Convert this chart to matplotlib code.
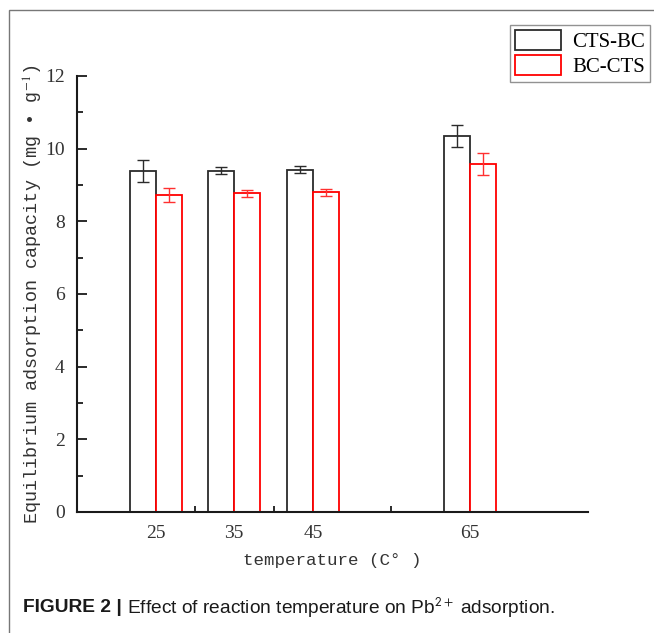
import numpy as np
import matplotlib
matplotlib.use("Agg")
import matplotlib.pyplot as plt
from matplotlib.patches import Rectangle

# Datos
temps = [25, 35, 45, 65]
cts_bc = [9.38, 9.39, 9.42, 10.34]
cts_bc_err = [0.30, 0.10, 0.10, 0.30]
bc_cts = [8.73, 8.77, 8.80, 9.58]
bc_cts_err = [0.20, 0.10, 0.10, 0.30]
labels = ["CTS-BC", "BC-CTS"]

w = 3.3
x = np.array(temps, dtype=float)

fig = plt.figure(figsize=(6.54, 6.33), dpi=100)
ax = fig.add_axes([77 / 654, 1 - 512 / 633, (588 - 77) / 654, (512 - 76) / 633])

serif = "Liberation Serif"
mono = "Liberation Mono"

b1 = ax.bar(x - w / 2, cts_bc, w, facecolor="white", edgecolor="#2b2b2b", lw=1.3,
            label=labels[0], zorder=2)
b2 = ax.bar(x + w / 2, bc_cts, w, facecolor="white", edgecolor="#ff0000", lw=1.3,
            label=labels[1], zorder=2)
ax.errorbar(x - w / 2, cts_bc, yerr=cts_bc_err, fmt="none", ecolor="#2b2b2b",
            elinewidth=1.0, capsize=4.5, capthick=1.0, zorder=3)
ax.errorbar(x + w / 2, bc_cts, yerr=bc_cts_err, fmt="none", ecolor="#ff3030",
            elinewidth=1.0, capsize=4.5, capthick=1.0, zorder=3)

ax.set_xlim(15, 80)
ax.set_ylim(0, 12)
ax.set_xticks(temps)
ax.set_xticks([30, 40, 55], minor=True)
ax.set_yticks(np.arange(0, 13, 2))
ax.set_yticks(np.arange(1, 12, 2), minor=True)

for s in ["top", "right"]:
    ax.spines[s].set_visible(False)
for s in ["left", "bottom"]:
    ax.spines[s].set_linewidth(1.5)
    ax.spines[s].set_color("#1a1a1a")

ax.tick_params(which="major", direction="in", length=7, width=1.3, colors="#1a1a1a", pad=9)
ax.tick_params(which="minor", direction="in", length=4, width=1.3, colors="#1a1a1a")
for t in ax.get_xticklabels() + ax.get_yticklabels():
    t.set_fontfamily(serif)
    t.set_fontsize(14)
    t.set_color("#333333")

ax.set_xlabel("temperature (C° )", fontfamily=mono, fontsize=12.6, color="#333333", labelpad=8)
ax.set_ylabel("Equilibrium adsorption capacity (mg • g$^{-1}$)", fontfamily=mono,
              fontsize=13.3, color="#333333", labelpad=0, math_fontfamily="stix")

leg = fig.legend(handles=[b1, b2], labels=labels, loc="upper right",
                 bbox_to_anchor=(650 / 654, 1 - 25 / 633), prop={"family": serif, "size": 15},
                 frameon=True, fancybox=False, handlelength=2.2, handleheight=1.1,
                 labelspacing=0.12, borderpad=0.25, handletextpad=0.55, borderaxespad=0)
leg.get_frame().set_edgecolor("#777777")
leg.get_frame().set_linewidth(1.0)

# marco exterior
fig.patches.append(Rectangle((9 / 654, -0.1), 1.2, 1 - 10 / 633 + 0.1, transform=fig.transFigure,
                             fill=False, edgecolor="#777777", lw=1.0))

# pie de figura
cap1 = fig.text(23 / 654, 1 - 608 / 633, "FIGURE 2 |", fontfamily="Liberation Sans",
                fontweight="bold", fontsize=13.8, va="center", color="#1a1a1a")
fig.canvas.draw()
bb = cap1.get_window_extent()
fig.text((bb.x1 + 5) / 654, 1 - 608 / 633, "Effect of reaction temperature on Pb$^{2+}$ adsorption.",
         fontfamily="Liberation Sans", fontsize=13.8, va="center", color="#1a1a1a",
         math_fontfamily="stixsans")

fig.savefig("out.png", dpi=100)
